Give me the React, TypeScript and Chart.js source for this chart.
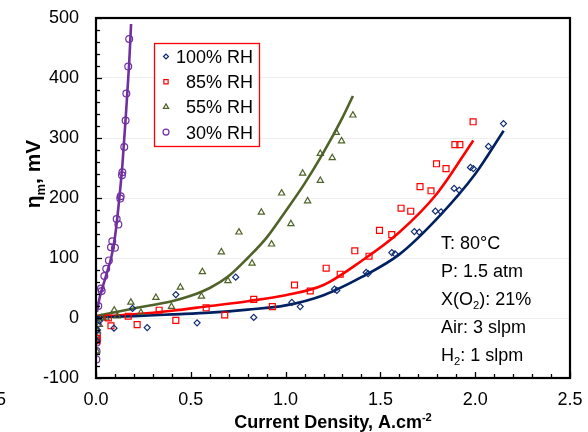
import React, { useEffect, useRef } from 'react';
import { Chart, registerables } from 'chart.js';

Chart.register(...registerables);

// ---- data ----
const rh100Points: [number, number][] = [
  [0.004, -38], [0.008, -20], [0.018, -5], [0.095, -17], [0.193, 16], [0.27, -16], [0.421, 39],
  [0.533, -8], [0.737, 68], [0.832, 1], [1.033, 26], [1.077, 19], [1.258, 48], [1.27, 46],
  [1.425, 76], [1.435, 74], [1.56, 109], [1.577, 107], [1.679, 144], [1.705, 143], [1.79, 178],
  [1.82, 177], [1.889, 216], [1.916, 213], [1.975, 251], [1.99, 249], [2.07, 286], [2.149, 324],
];
const rh85Points: [number, number][] = [
  [0.004, -38], [0.007, -34], [0.065, 0], [0.079, -13], [0.17, 3], [0.217, -11], [0.333, 13],
  [0.421, -4], [0.581, 17], [0.679, 5], [0.832, 31], [0.93, 19], [1.047, 55], [1.13, 45],
  [1.214, 83], [1.288, 73], [1.365, 112], [1.44, 103], [1.495, 146], [1.56, 139], [1.609, 183],
  [1.66, 178], [1.709, 219], [1.767, 212], [1.796, 257], [1.846, 249], [1.893, 289], [1.919, 289],
  [1.989, 327],
];
const rh55Points: [number, number][] = [
  [0.003, -55], [0.006, -34], [0.008, -22], [0.018, -11], [0.03, 0], [0.053, 0], [0.112, 3],
  [0.096, 13], [0.184, 26], [0.237, 9], [0.316, 34], [0.398, 19], [0.445, 51], [0.556, 36],
  [0.561, 77], [0.661, 110], [0.696, 62], [0.754, 143], [0.823, 91], [0.872, 176], [0.926, 123],
  [0.979, 208], [1.028, 157], [1.09, 241], [1.116, 195], [1.183, 274], [1.183, 229], [1.246, 267],
  [1.267, 309], [1.295, 295], [1.355, 338],
];
const rh30Points: [number, number][] = [
  [0.002, -69], [0.003, -55], [0.004, -41], [0.005, -27], [0.006, -10], [0.012, 20], [0.026, 49],
  [0.03, 45], [0.044, 70], [0.054, 82], [0.068, 96], [0.079, 118], [0.086, 128], [0.1, 117],
  [0.109, 165], [0.118, 156], [0.13, 203], [0.128, 199], [0.139, 243], [0.137, 238], [0.149, 285],
  [0.156, 329], [0.16, 374], [0.17, 419], [0.175, 465],
];

const rh100Fit: [number, number][] = [
  [0, 1], [0.2, 3], [0.4, 6], [0.6, 9], [0.8, 14], [1.0, 21], [1.2, 38], [1.4, 68], [1.6, 106],
  [1.8, 166], [2.0, 240], [2.15, 312],
];
const rh85Fit: [number, number][] = [
  [0, 2], [0.2, 6], [0.4, 12], [0.6, 20], [0.8, 28], [1.0, 38], [1.2, 55], [1.4, 95], [1.6, 143],
  [1.8, 208], [1.99, 296],
];
const rh55Fit: [number, number][] = [
  [0, 3], [0.2, 16], [0.4, 28], [0.5, 37], [0.6, 50], [0.7, 70], [0.8, 100], [0.9, 134], [1.0, 178],
  [1.1, 224], [1.2, 276], [1.3, 334], [1.355, 370],
];
const rh30Fit: [number, number][] = [
  [0.005, 10], [0.02, 35], [0.04, 57], [0.06, 78], [0.08, 100], [0.1, 135], [0.12, 190],
  [0.14, 258], [0.16, 350], [0.175, 425], [0.185, 490],
];

const seriesLabels = ['100% RH', '85% RH', '55% RH', '30% RH'];
const seriesColors = ['#0E2A72', '#FF0000', '#4F6228', '#7030A0'];
const lineColors = ['#002060', '#FF0000', '#4F6228', '#7030A0'];
const seriesShapes = ['rectRot', 'rect', 'triangle', 'circle'];
const seriesRadius = [3, 4.2, 3.6, 3.4];

const xTicks = [0, 0.5, 1.0, 1.5, 2.0, 2.5];
const yTicks = [-100, 0, 100, 200, 300, 400, 500];

type Part = { t: string; sub?: boolean; sup?: boolean };
const annotationLines: Part[][] = [
  [{ t: 'T: 80°C' }],
  [{ t: 'P: 1.5 atm' }],
  [{ t: 'X(O' }, { t: '2', sub: true }, { t: '): 21%' }],
  [{ t: 'Air: 3 slpm' }],
  [{ t: 'H' }, { t: '2', sub: true }, { t: ': 1 slpm' }],
];
const yTitleParts: Part[] = [{ t: 'η' }, { t: 'm', sub: true }, { t: ', mV' }];
const xTitleParts: Part[] = [{ t: 'Current Density, A.cm' }, { t: '-2', sup: true }];

const FONT = '"Liberation Sans", Arial, sans-serif';

function partsWidth(ctx: CanvasRenderingContext2D, parts: Part[], size: number, weight: string) {
  let w = 0;
  for (const p of parts) {
    const s = p.sub || p.sup ? size * 0.62 : size;
    ctx.font = `${weight} ${s}px ${FONT}`;
    w += ctx.measureText(p.t).width;
  }
  return w;
}

function drawParts(ctx: CanvasRenderingContext2D, parts: Part[], x: number, y: number, size: number, weight: string) {
  let cx = x;
  ctx.textBaseline = 'alphabetic';
  ctx.textAlign = 'left';
  for (const p of parts) {
    const s = p.sub || p.sup ? size * 0.62 : size;
    ctx.font = `${weight} ${s}px ${FONT}`;
    const dy = p.sub ? size * 0.22 : p.sup ? -size * 0.4 : 0;
    ctx.fillText(p.t, cx, y + dy);
    cx += ctx.measureText(p.t).width;
  }
}

function drawMarker(ctx: CanvasRenderingContext2D, shape: string, x: number, y: number, r: number, color: string) {
  ctx.save();
  ctx.strokeStyle = color;
  ctx.lineWidth = 1.2;
  ctx.beginPath();
  if (shape === 'rectRot') {
    ctx.moveTo(x - r, y); ctx.lineTo(x, y - r); ctx.lineTo(x + r, y); ctx.lineTo(x, y + r); ctx.closePath();
  } else if (shape === 'rect') {
    const s = r * Math.SQRT1_2;
    ctx.rect(x - s, y - s, 2 * s, 2 * s);
  } else if (shape === 'triangle') {
    ctx.moveTo(x, y - r);
    ctx.lineTo(x + r * 0.866, y + r * 0.5);
    ctx.lineTo(x - r * 0.866, y + r * 0.5);
    ctx.closePath();
  } else {
    ctx.arc(x, y, r, 0, Math.PI * 2);
  }
  ctx.stroke();
  ctx.restore();
}

const decorPlugin = {
  id: 'decor',
  afterDraw(chart: any) {
    const { ctx, chartArea: a, scales } = chart;
    const xs = scales.x;
    const ys = scales.y;
    ctx.save();
    ctx.strokeStyle = '#000';
    ctx.lineWidth = 1.3;
    // y ticks (inside)
    for (let v = -100; v <= 500; v += 20) {
      const py = Math.round(ys.getPixelForValue(v)) + 0.5;
      const len = v % 100 === 0 ? 6 : 4;
      ctx.beginPath();
      ctx.moveTo(a.left, py);
      ctx.lineTo(a.left + len, py);
      ctx.stroke();
    }
    // x ticks (inside)
    for (let i = 0; i <= 25; i++) {
      const px = Math.round(xs.getPixelForValue(i / 10)) + 0.5;
      const len = i % 5 === 0 ? 6 : 4;
      ctx.beginPath();
      ctx.moveTo(px, a.bottom);
      ctx.lineTo(px, a.bottom - len);
      ctx.stroke();
    }
    // frame
    ctx.lineWidth = 2.2;
    ctx.strokeRect(a.left, a.top, a.right - a.left, a.bottom - a.top);

    // legend
    ctx.strokeStyle = '#FF0000';
    ctx.lineWidth = 1.3;
    ctx.fillStyle = '#fff';
    ctx.fillRect(154, 43, 105, 103);
    ctx.strokeRect(154.5, 43.5, 105, 103);
    ctx.fillStyle = '#000';
    ctx.font = `18px ${FONT}`;
    ctx.textAlign = 'right';
    ctx.textBaseline = 'alphabetic';
    for (let i = 0; i < seriesLabels.length; i++) {
      const base = 63 + i * 25.2;
      ctx.fillText(seriesLabels[i], 253, base);
      drawMarker(ctx, seriesShapes[i], 166, base - 6.5, i === 0 ? 2.5 : 3, seriesColors[i]);
    }

    // annotations
    ctx.fillStyle = '#000';
    annotationLines.forEach((parts, i) => {
      drawParts(ctx, parts, 441, 249 + i * 28, 18, 'normal');
    });

    // axis titles
    const xw = partsWidth(ctx, xTitleParts, 18, 'bold');
    drawParts(ctx, xTitleParts, (a.left + a.right) / 2 - xw / 2, 428, 18, 'bold');
    ctx.save();
    ctx.translate(40, 174);
    ctx.rotate(-Math.PI / 2);
    const yw = partsWidth(ctx, yTitleParts, 21, 'bold');
    drawParts(ctx, yTitleParts, -yw / 2, 0, 21, 'bold');
    ctx.restore();

    // cut-off fragment of a neighbouring chart's tick label
    ctx.font = `18px ${FONT}`;
    ctx.textAlign = 'right';
    ctx.fillText('2.5', 6, 405);
    ctx.restore();
  },
};

function toXY(arr: [number, number][]) {
  return arr.map(([x, y]) => ({ x, y }));
}

export default function App() {
  const ref = useRef<HTMLCanvasElement | null>(null);
  useEffect(() => {
    if (!ref.current) return;
    const pts = [rh100Points, rh85Points, rh55Points, rh30Points];
    const fits = [rh100Fit, rh85Fit, rh55Fit, rh30Fit];
    const datasets: any[] = [];
    for (let i = 0; i < 4; i++) {
      datasets.push({
        label: seriesLabels[i],
        data: toXY(pts[i]),
        showLine: false,
        pointStyle: seriesShapes[i],
        pointRadius: seriesRadius[i],
        pointBorderWidth: 1.2,
        borderColor: seriesColors[i],
        backgroundColor: 'rgba(255,255,255,0)',
        order: 1,
      });
    }
    for (let i = 0; i < 4; i++) {
      datasets.push({
        label: seriesLabels[i] + ' fit',
        data: toXY(fits[i]),
        showLine: true,
        pointRadius: 0,
        borderColor: lineColors[i],
        borderWidth: 2.6,
        cubicInterpolationMode: 'monotone',
        fill: false,
        order: 2,
      });
    }
    const chart = new Chart(ref.current, {
      type: 'scatter',
      data: { datasets },
      options: {
        animation: false,
        responsive: false,
        devicePixelRatio: 1,
        layout: { padding: { left: 0, right: 18, top: 18, bottom: 0 } },
        plugins: { legend: { display: false }, tooltip: { enabled: false }, title: { display: false } },
        scales: {
          x: {
            type: 'linear',
            min: 0,
            max: 2.5,
            afterBuildTicks: (s: any) => { s.ticks = xTicks.map((v) => ({ value: v })); },
            afterFit: (s: any) => { s.height = 54; s.paddingLeft = 0; s.paddingRight = 0; s.paddingTop = 0; s.paddingBottom = 0; },
            grid: { display: false, drawTicks: false },
            border: { display: false },
            ticks: {
              color: '#000',
              font: { family: FONT, size: 18 },
              padding: 11,
              maxRotation: 0,
              callback: (v: any) => Number(v).toFixed(1),
            },
          },
          y: {
            type: 'linear',
            min: -100,
            max: 500,
            afterBuildTicks: (s: any) => { s.ticks = yTicks.map((v) => ({ value: v })); },
            afterFit: (s: any) => { s.width = 96; s.paddingTop = 0; s.paddingBottom = 0; s.paddingLeft = 0; s.paddingRight = 0; },
            grid: { color: '#EEEEEE', lineWidth: 1, drawTicks: false },
            border: { display: false },
            ticks: {
              color: '#000',
              font: { family: FONT, size: 18 },
              padding: 17,
              callback: (v: any) => String(v),
            },
          },
        },
      },
      plugins: [decorPlugin],
    });
    return () => chart.destroy();
  }, []);
  return (
    <div style={{ position: 'absolute', left: 0, top: 0, width: 588, height: 432, background: '#fff' }}>
      <canvas ref={ref} width={588} height={432} style={{ display: 'block' }} />
    </div>
  );
}
